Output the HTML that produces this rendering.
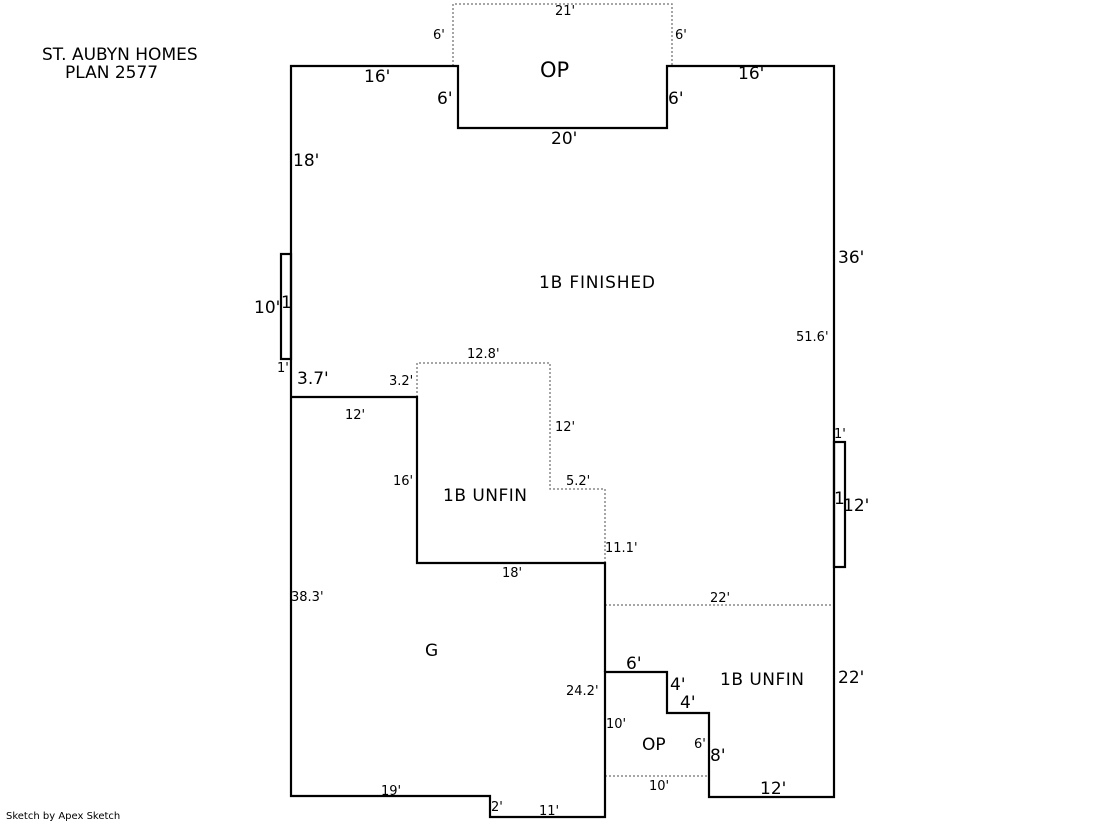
<!DOCTYPE html>
<html><head><style>
body{margin:0;background:#fff}
svg text{font-family:"DejaVu Sans",Verdana,sans-serif;fill:#000}
</style></head><body>
<svg width="1119" height="821" xmlns="http://www.w3.org/2000/svg">
<g fill="none" stroke="#888" stroke-width="1.5" stroke-dasharray="2,2">
<polyline points="453,66 453,4 672,4 672,66"/>
<polyline points="417,397 417,363 550,363 550,489 605,489 605,563"/>
<line x1="605" y1="605" x2="834" y2="605"/>
<line x1="605" y1="776" x2="709" y2="776"/>
</g>
<g fill="none" stroke="#000" stroke-width="2.2">
<polygon points="291,66 458,66 458,128 667,128 667,66 834,66 834,797 709,797 709,713 667,713 667,672 605,672 605,817 490,817 490,796 291,796"/>
<polyline points="291,397 417,397 417,563 605,563 605,672"/>
<rect x="281" y="254" width="10" height="105"/>
<rect x="834" y="442" width="11" height="125"/>
</g>
<g font-size="17">
<text x="42" y="60">ST. AUBYN HOMES</text>
<text x="65" y="78">PLAN 2577</text>
<text x="540" y="77" font-size="21">OP</text>
<text x="364" y="82">16'</text>
<text x="738" y="79">16'</text>
<text x="437" y="104">6'</text>
<text x="668" y="104">6'</text>
<text x="551" y="144">20'</text>
<text x="293" y="166">18'</text>
<text x="838" y="263">36'</text>
<text x="539" y="288" textLength="116">1B FINISHED</text>
<text x="254" y="313">10'</text>
<text x="281" y="308">1</text>
<text x="297" y="384">3.7'</text>
<text x="834" y="504">1</text>
<text x="843" y="511">12'</text>
<text x="443" y="501" textLength="84">1B UNFIN</text>
<text x="425" y="656">G</text>
<text x="626" y="669">6'</text>
<text x="720" y="685" textLength="84">1B UNFIN</text>
<text x="838" y="683">22'</text>
<text x="670" y="690">4'</text>
<text x="680" y="708">4'</text>
<text x="642" y="750">OP</text>
<text x="710" y="761">8'</text>
<text x="760" y="794">12'</text>
</g>
<g font-size="13">
<text x="555" y="15">21'</text>
<text x="433" y="39">6'</text>
<text x="675" y="39">6'</text>
<text x="277" y="372">1'</text>
<text x="389" y="385">3.2'</text>
<text x="467" y="358">12.8'</text>
<text x="796" y="341">51.6'</text>
<text x="345" y="419">12'</text>
<text x="555" y="431">12'</text>
<text x="834" y="438">1'</text>
<text x="393" y="485">16'</text>
<text x="566" y="485">5.2'</text>
<text x="605" y="552">11.1'</text>
<text x="502" y="577">18'</text>
<text x="710" y="602">22'</text>
<text x="291" y="601">38.3'</text>
<text x="566" y="695">24.2'</text>
<text x="606" y="728">10'</text>
<text x="694" y="748">6'</text>
<text x="649" y="790">10'</text>
<text x="381" y="795">19'</text>
<text x="491" y="811">2'</text>
<text x="539" y="815">11'</text>
</g>
<text x="6" y="819" font-size="10">Sketch by Apex Sketch</text>
</svg>
</body></html>
